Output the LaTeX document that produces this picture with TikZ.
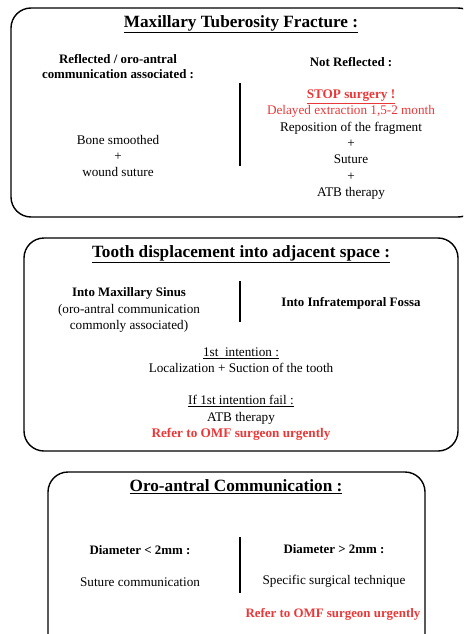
\documentclass[tikz,border=0pt]{standalone}
\usepackage{fontspec}
\setmainfont{Liberation Serif}
\definecolor{alertred}{RGB}{234,56,56}

\begin{document}
\begin{tikzpicture}[
        x=1pt, y=-1pt,
        panel/.style={draw, line width=1.4pt, rounded corners=20pt},
        heading/.style={font=\fontsize{17.2}{20}\selectfont\bfseries},
        subhead/.style={font=\fontsize{12.9}{15}\selectfont\bfseries, align=center},
        body/.style={font=\fontsize{13.2}{16.3}\selectfont, align=center},
        divider/.style={line width=1.6pt},
    ]
    \useasboundingbox (0,0) rectangle (463,634);
    \clip (0,0) rectangle (463,634);

    % panel 1
    \draw[panel] (11,8) rectangle (478,217);
    \node[heading] (fracture) at (241,24) {\underline{Maxillary Tuberosity Fracture :}};
    \node[subhead] (reflected) at (118,66.5) {Reflected / oro-antral\\communication associated :};
    \node[subhead] (notreflected) at (351,62) {Not Reflected :};
    \node[body] (smoothed) at (118,156) {Bone smoothed\\+\\wound suture};
    \node[body] (stop) at (351,144.5) {{\color{alertred}\bfseries\underline{STOP surgery !}}\\
        {\color{alertred}Delayed extraction 1,5-2 month}\\
        Reposition of the fragment\\+\\Suture\\+\\ATB therapy};
    \coordinate (d1top) at (240,83);
    \coordinate (d1bot) at (240,166);
    \draw[divider] (d1top) -- (d1bot);

    % panel 2
    \draw[panel] (24,238) rectangle (458,451);
    \node[heading] (displacement) at (241,254) {\underline{Tooth displacement into adjacent space :}};
    \node[body] (sinus) at (129,310) {\fontsize{12.9}{15}\selectfont\bfseries Into Maxillary Sinus\\
        (oro-antral communication\\commonly associated)};
    \node[subhead] (fossa) at (351,303) {Into Infratemporal Fossa};
    \coordinate (d2top) at (240,281);
    \coordinate (d2bot) at (240,322);
    \draw[divider] (d2top) -- (d2bot);
    \node[body] (first) at (241,360.5) {\underline{1st\ \ intention :}\\Localization + Suction of the tooth};
    \node[body] (fail) at (241,418) {\underline{If 1st intention fail :}\\ATB therapy\\
        {\color{alertred}\bfseries Refer to OMF surgeon urgently}};

    % panel 3
    \draw[panel] (48,472) rectangle (425,660);
    \node[heading] (communication) at (236,487) {\underline{Oro-antral Communication :}};
    \node[subhead] (small) at (140,550) {Diameter < 2mm :};
    \node[body] (sutcomm) at (140,582) {Suture communication};
    \node[subhead] (large) at (334,549) {Diameter > 2mm :};
    \node[body] (technique) at (334,581) {Specific surgical technique};
    \node[subhead, text=alertred] (refer) at (333,614) {Refer to OMF surgeon urgently};
    \coordinate (d3top) at (240,537);
    \coordinate (d3bot) at (240,593);
    \draw[divider] (d3top) -- (d3bot);
\end{tikzpicture}
\end{document}
